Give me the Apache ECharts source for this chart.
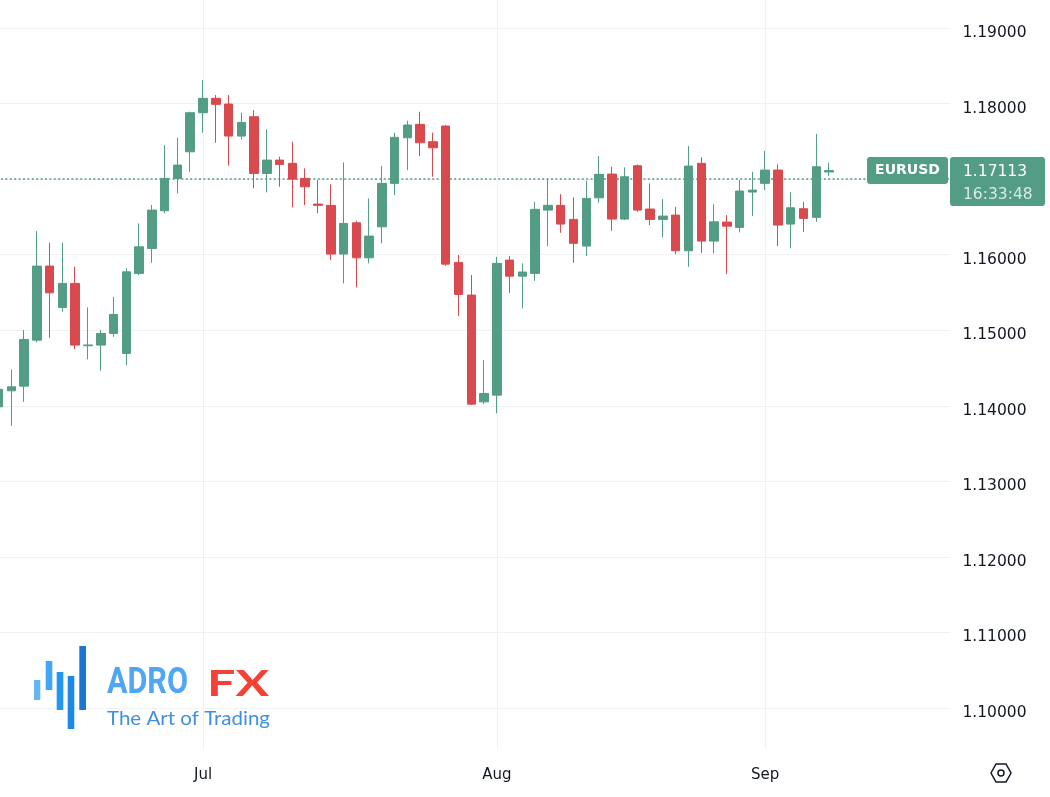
<!DOCTYPE html>
<html><head><meta charset="utf-8">
<script src="https://cdn.jsdelivr.net/npm/echarts@6/dist/echarts.min.js"></script>
<style>html,body{margin:0;padding:0;background:#fff}#c{width:1050px;height:797px}</style>
</head><body><div id="c"></div>
<script>
// ---- data ----
const dates = [
 '2025-06-09','2025-06-10','2025-06-11','2025-06-12','2025-06-13','2025-06-16','2025-06-17','2025-06-18','2025-06-19','2025-06-20',
 '2025-06-23','2025-06-24','2025-06-25','2025-06-26','2025-06-27','2025-06-30',
 '2025-07-01','2025-07-02','2025-07-03','2025-07-04','2025-07-07','2025-07-08','2025-07-09','2025-07-10','2025-07-11',
 '2025-07-14','2025-07-15','2025-07-16','2025-07-17','2025-07-18','2025-07-21','2025-07-22','2025-07-23','2025-07-24','2025-07-25',
 '2025-07-28','2025-07-29','2025-07-30','2025-07-31',
 '2025-08-01','2025-08-04','2025-08-05','2025-08-06','2025-08-07','2025-08-08','2025-08-11','2025-08-12','2025-08-13','2025-08-14',
 '2025-08-15','2025-08-18','2025-08-19','2025-08-20','2025-08-21','2025-08-22','2025-08-25','2025-08-26','2025-08-27','2025-08-28','2025-08-29',
 '2025-09-01','2025-09-02','2025-09-03','2025-09-04','2025-09-05','2025-09-08'
];
const futureDates = ['2025-09-09','2025-09-10','2025-09-11','2025-09-12','2025-09-15','2025-09-16','2025-09-17','2025-09-18','2025-09-19'];
const opens = [
 1.13987,1.14198,1.14260,1.14869,1.15849,1.15302,1.15620,1.14795,1.14803,1.14958,
 1.14693,1.15752,1.16083,1.16581,1.17010,1.17362,
 1.17879,1.18069,1.17994,1.17570,1.17826,1.17076,1.17252,1.17209,1.17010,
 1.16670,1.16653,1.16008,1.16422,1.15959,1.16369,1.16944,1.17548,1.17725,1.17495,
 1.17703,1.15898,1.15465,1.14052,
 1.14141,1.15928,1.15716,1.15752,1.16590,1.16653,1.16467,1.16114,1.16753,1.17067,
 1.16471,1.17177,1.16604,1.16467,1.16524,1.16052,1.17209,1.16180,1.16431,1.16361,1.16829,
 1.16944,1.17120,1.16405,1.16608,1.16494,1.17095
];
const closes = [
 1.14218,1.14251,1.14878,1.15849,1.15495,1.15620,1.14803,1.14805,1.14958,1.15209,
 1.15773,1.16104,1.16590,1.17010,1.17186,1.17879,
 1.18069,1.17990,1.17570,1.17751,1.17076,1.17252,1.17195,1.17000,1.16899,
 1.16653,1.16008,1.16414,1.15959,1.16246,1.16944,1.17553,1.17716,1.17481,1.17415,
 1.15875,1.15474,1.14022,1.14163,
 1.15885,1.15716,1.15770,1.16600,1.16653,1.16405,1.16150,1.16745,1.17063,1.16471,
 1.17031,1.16590,1.16467,1.16511,1.16052,1.17173,1.16180,1.16435,1.16378,1.16842,1.16855,
 1.17120,1.16392,1.16621,1.16480,1.17164,1.17113
];
const lows = [
 1.13920,1.13734,1.14052,1.14843,1.14900,1.15244,1.14750,1.14614,1.14463,1.14913,
 1.14538,1.15730,1.15893,1.16547,1.16811,1.17097,
 1.17614,1.17481,1.17177,1.17526,1.16878,1.16825,1.16899,1.16626,1.16657,
 1.16547,1.15928,1.15620,1.15567,1.15885,1.16150,1.16789,1.17120,1.17305,1.17031,
 1.15853,1.15187,1.14009,1.14022,
 1.13899,1.15495,1.15289,1.15654,1.16114,1.16290,1.15893,1.15981,1.16687,1.16316,
 1.16458,1.16568,1.16392,1.16229,1.16008,1.15840,1.16025,1.16017,1.15743,1.16295,1.16511,
 1.16855,1.16114,1.16083,1.16303,1.16435,1.17044
];
const highs = [
 1.14250,1.14481,1.15002,1.16312,1.16157,1.16157,1.15840,1.15302,1.15002,1.15442,
 1.15818,1.16414,1.16657,1.17451,1.17548,1.17892,
 1.18312,1.18113,1.18113,1.17879,1.17914,1.17659,1.17296,1.17495,1.17142,
 1.16988,1.16931,1.17222,1.16449,1.16745,1.17173,1.17614,1.17773,1.17892,1.17614,
 1.17716,1.15995,1.15730,1.14604,
 1.15972,1.15981,1.15885,1.16700,1.17000,1.16802,1.16758,1.16978,1.17305,1.17164,
 1.17156,1.17195,1.16944,1.16736,1.16634,1.17438,1.17288,1.16666,1.16524,1.16988,1.17097,
 1.17375,1.17195,1.16825,1.16700,1.17597,1.17217
];
const monthTicks = {'2025-07-01':'Jul','2025-08-01':'Aug','2025-09-01':'Sep'};
const symbolName = 'EURUSD';
const lastPrice = 1.17113;
const countdown = '16:33:48';
const yMin = 1.09444, yMax = 1.19371;

// ---- styles ----
const UP = '#539c85', DOWN = '#d84a4e', GRID = '#f0f1f4', TXT = '#131722';
const FONT = '"DejaVu Sans", sans-serif';

const chart = echarts.init(document.getElementById('c'), null, {renderer: 'canvas'});
const allDates = dates.concat(futureDates);
const candles = opens.map((o, i) => [o, closes[i], lows[i], highs[i]]);

const vLines = Object.keys(monthTicks).map(d => ({xAxis: d, lineStyle: {color: GRID, width: 1, type: 'solid'}}));

chart.setOption({
  animation: false,
  backgroundColor: '#ffffff',
  grid: {left: -7.8, top: 0, width: 958.2, height: 750, containLabel: false, outerBoundsMode: 'none'},
  xAxis: {
    type: 'category', data: allDates, boundaryGap: true,
    axisLine: {show: false}, axisTick: {show: false}, splitLine: {show: false},
    axisLabel: {
      interval: (i, v) => !!monthTicks[v],
      formatter: v => monthTicks[v] || '',
      color: TXT, fontSize: 15, fontFamily: FONT, margin: 18
    }
  },
  yAxis: {
    type: 'value', position: 'right', min: yMin, max: yMax, splitNumber: 10, scale: true,
    axisLine: {show: false}, axisTick: {show: false},
    splitLine: {show: true, showMinLine: false, showMaxLine: false, lineStyle: {color: GRID, width: 1}},
    axisLabel: {
      formatter: v => v.toFixed(5), color: TXT, fontSize: 15.5, fontFamily: FONT,
      margin: 12, showMinLabel: false, showMaxLabel: false, verticalAlign: 'top', lineHeight: 10
    }
  },
  series: [{
    type: 'candlestick', data: candles, barWidth: 9, z: 3,
    itemStyle: {color: UP, color0: DOWN, borderColor: UP, borderColor0: DOWN, borderWidth: 1},
    markLine: {
      z: 1, silent: true, symbol: ['none', 'none'], label: {show: false}, animation: false,
      emphasis: {disabled: true},
      data: vLines.concat([{yAxis: lastPrice, lineStyle: {color: UP, width: 1.6, type: [2, 2.4], opacity: 1}}])
    }
  }]
});

// ---- overlays ----
const mctx = document.createElement('canvas').getContext('2d');
function fitScale(text, font, target) { mctx.font = font; return target / mctx.measureText(text).width; }

const yP = chart.convertToPixel({yAxisIndex: 0}, lastPrice);
const fADRO = 'bold 37px Roboto', fFX = 'bold 37px Lato', fTag = '20px Lato';
chart.setOption({
  graphic: [
    // price labels
    {type: 'rect', shape: {x: 867, y: yP - 13.5, width: 81, height: 27, r: 3}, style: {fill: UP}, z: 10},
    {type: 'text', x: 907.5, y: yP, z: 11, style: {text: symbolName, fill: '#fff', font: 'bold 14px ' + FONT, align: 'center', verticalAlign: 'middle'}},
    {type: 'rect', shape: {x: 950, y: yP - 13.5, width: 95, height: 49, r: 3}, style: {fill: UP}, z: 10},
    {type: 'text', x: 963, y: yP + 1, z: 11, style: {text: lastPrice.toFixed(5), fill: '#fff', font: '15.5px ' + FONT, align: 'left', verticalAlign: 'middle'}},
    {type: 'text', x: 963, y: yP + 24, z: 11, style: {text: countdown, fill: 'rgba(255,255,255,0.78)', font: '15.5px ' + FONT, align: 'left', verticalAlign: 'middle'}},
    // settings icon
    {type: 'polygon', z: 10, shape: {points: [[991, 773], [996, 764], [1006, 764], [1011, 773], [1006, 782], [996, 782]]}, style: {fill: 'none', stroke: TXT, lineWidth: 1.5}},
    {type: 'circle', z: 10, shape: {cx: 1001, cy: 773, r: 3}, style: {fill: 'none', stroke: TXT, lineWidth: 1.5}},
    // logo
    {type: 'rect', z: 10, shape: {x: 34, y: 680, width: 6.3, height: 20}, style: {fill: '#64b5f6'}},
    {type: 'rect', z: 10, shape: {x: 45.7, y: 661, width: 6.6, height: 29}, style: {fill: '#42a5f5'}},
    {type: 'rect', z: 10, shape: {x: 56.7, y: 672, width: 6.6, height: 38}, style: {fill: '#2196f3'}},
    {type: 'rect', z: 10, shape: {x: 67.7, y: 676, width: 6.6, height: 53}, style: {fill: '#1e88e5'}},
    {type: 'rect', z: 10, shape: {x: 79.3, y: 646, width: 6.7, height: 64}, style: {fill: '#1976d2'}},
    {type: 'text', z: 10, x: 107, y: 684, scaleX: fitScale('ADRO', fADRO, 81), style: {text: 'ADRO', font: fADRO, fill: '#4fa5f6', verticalAlign: 'middle'}},
    {type: 'text', z: 10, x: 207, y: 684, scaleX: fitScale('FX', fFX, 62), style: {text: 'FX', font: fFX, fill: '#f44336', verticalAlign: 'middle'}},
    {type: 'text', z: 10, x: 107, y: 719, scaleX: fitScale('The Art of Trading', fTag, 163), style: {text: 'The Art of Trading', font: fTag, fill: '#3f8fe3', verticalAlign: 'middle'}}
  ]
});
</script></body></html>
